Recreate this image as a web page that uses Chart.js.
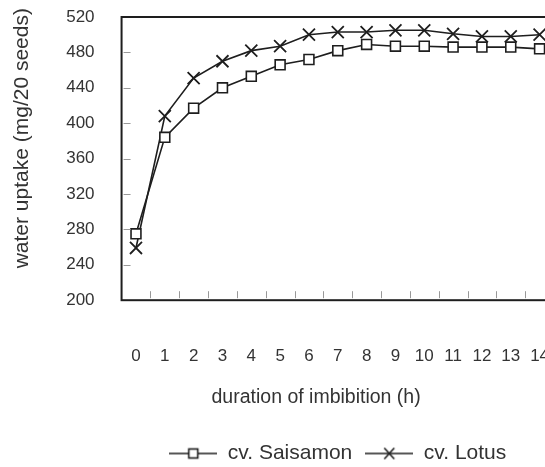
<!DOCTYPE html>
<html>
<head>
<meta charset="utf-8">
<script src="https://cdn.jsdelivr.net/npm/chart.js@4.4.1/dist/chart.umd.min.js"></script>
<style>
  html, body { margin: 0; padding: 0; background: #fff; overflow: hidden; }
  #uptake { display: block; }
</style>
</head>
<body>
<canvas id="uptake" width="565" height="467"></canvas>
<script>
// hours of imbibition (x categories)
const hours = ['0', '1', '2', '3', '4', '5', '6', '7', '8', '9', '10', '11', '12', '13', '14'];
// water uptake, mg / 20 seeds
const saisamon = [275, 384, 417, 440, 453, 466, 472, 482, 489, 487, 487, 486, 486, 486, 484];
const lotus = [259, 408, 451, 470, 482, 487, 500, 503, 503, 505, 505, 501, 498, 498, 500];
const seriesNames = ['cv. Saisamon', 'cv. Lotus'];
const yMin = 200, yMax = 520, yStep = 40;
const xTitle = 'duration of imbibition (h)';
const yTitle = 'water uptake (mg/20 seeds)';

const INK = '#1e1e1e';
const TEXT = '#333';
const FONT = '"Liberation Sans", Arial, sans-serif';

// legend swatch: short line with the marker in the middle
function legendSwatch(kind) {
  const c = document.createElement('canvas');
  c.width = 48; c.height = 14;
  const g = c.getContext('2d');
  g.strokeStyle = INK;
  g.lineWidth = 1.6;
  g.beginPath(); g.moveTo(0, 7); g.lineTo(48, 7); g.stroke();
  if (kind === 'rect') {
    g.fillStyle = '#fff';
    g.fillRect(19.5, 2.5, 9, 9);
    g.strokeRect(19.5, 2.5, 9, 9);
  } else {
    g.beginPath();
    g.moveTo(19, 1.5); g.lineTo(29, 12.5);
    g.moveTo(29, 1.5); g.lineTo(19, 12.5);
    g.stroke();
  }
  return c;
}
const swatches = [legendSwatch('rect'), legendSwatch('cross')];

// box around the plot plus the small inward tick marks
const frame = {
  id: 'frame',
  afterDraw(chart) {
    const { ctx, chartArea: a, scales } = chart;
    ctx.save();
    ctx.strokeStyle = '#999';
    ctx.lineWidth = 1;
    for (let v = yMin + yStep; v < yMax; v += yStep) {
      const y = Math.round(scales.y.getPixelForValue(v)) + 0.5;
      ctx.beginPath(); ctx.moveTo(a.left + 2, y); ctx.lineTo(a.left + 9, y); ctx.stroke();
    }
    for (let i = 0; i < hours.length - 1; i++) {
      const x = Math.round((scales.x.getPixelForValue(i) + scales.x.getPixelForValue(i + 1)) / 2) + 0.5;
      ctx.beginPath(); ctx.moveTo(x, a.bottom - 2); ctx.lineTo(x, a.bottom - 9); ctx.stroke();
    }
    ctx.strokeStyle = INK;
    ctx.lineWidth = 2;
    ctx.strokeRect(a.left, a.top, a.right - a.left, a.bottom - a.top);
    ctx.restore();
  }
};

new Chart(document.getElementById('uptake'), {
  type: 'line',
  data: {
    labels: hours,
    datasets: [
      {
        label: seriesNames[0],
        data: saisamon,
        borderColor: INK,
        borderWidth: 1.6,
        pointStyle: 'rect',
        pointRadius: 7,
        pointBorderWidth: 1.6,
        pointBackgroundColor: '#fff',
        pointBorderColor: INK,
        tension: 0
      },
      {
        label: seriesNames[1],
        data: lotus,
        borderColor: INK,
        borderWidth: 1.6,
        pointStyle: 'crossRot',
        pointRadius: 8.5,
        pointBorderWidth: 1.8,
        pointBorderColor: INK,
        tension: 0
      }
    ]
  },
  options: {
    responsive: false,
    animation: false,
    layout: { padding: { top: 17, left: 0, right: 11, bottom: -7 } },
    plugins: {
      legend: {
        position: 'bottom',
        fullSize: false,
        labels: {
          usePointStyle: true,
          pointStyleWidth: 48,
          font: { family: FONT, size: 21 },
          color: TEXT,
          padding: 13,
          generateLabels: chart => chart.data.datasets.map((ds, i) => ({
            text: ds.label,
            pointStyle: swatches[i],
            fillStyle: '#fff',
            strokeStyle: INK,
            lineWidth: 0,
            hidden: false,
            datasetIndex: i,
            fontColor: TEXT
          }))
        }
      },
      tooltip: { enabled: false }
    },
    scales: {
      x: {
        offset: true,
        // tick marks are not drawn, but their length keeps the hour labels well below the axis
        grid: { display: false, drawTicks: true, tickLength: 42 },
        border: { display: false },
        ticks: { font: { family: FONT, size: 17 }, color: TEXT, padding: 4, maxRotation: 0, autoSkip: false },
        title: {
          display: true,
          // trailing spaces nudge the title left, as in the original figure
          text: xTitle + '        ',
          font: { family: FONT, size: 19.5 },
          color: TEXT,
          padding: { top: 15, bottom: 21 }
        }
      },
      y: {
        min: yMin,
        max: yMax,
        grid: { display: false, drawTicks: true, tickLength: 24 },
        border: { display: false },
        ticks: { stepSize: yStep, font: { family: FONT, size: 17 }, color: TEXT, padding: 3 },
        title: {
          display: true,
          // leading spaces lift the title a little above the plot's middle
          text: '       ' + yTitle,
          font: { family: FONT, size: 21 },
          color: TEXT,
          padding: { top: 10, bottom: 28 }
        }
      }
    }
  },
  plugins: [frame]
});
</script>
</body>
</html>
